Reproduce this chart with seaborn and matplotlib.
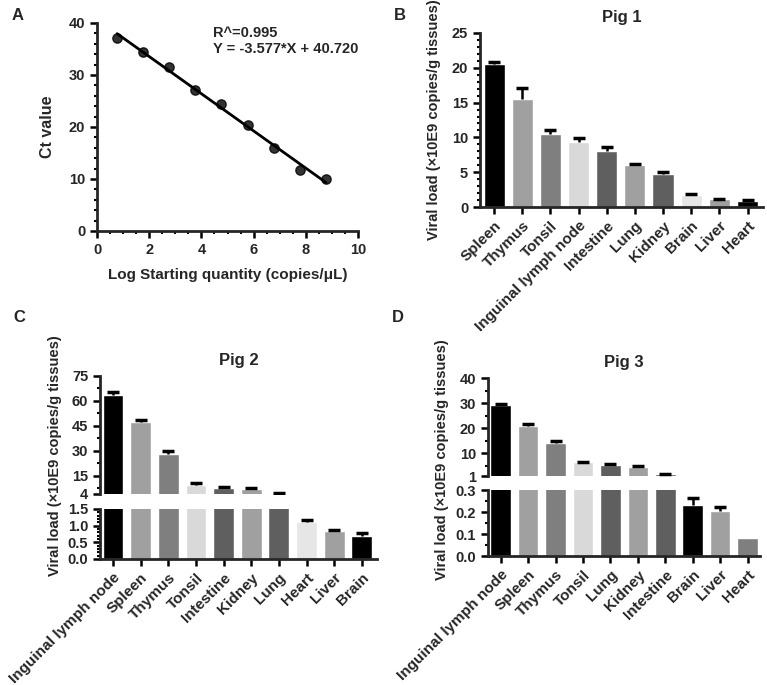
import matplotlib
matplotlib.use("Agg")
import matplotlib.pyplot as plt
from matplotlib.ticker import MultipleLocator
import seaborn as sns
import pandas as pd

# Panel A: standard curve
log_qty = [0.77, 1.77, 2.77, 3.77, 4.77, 5.77, 6.77, 7.77, 8.77]
ct_value = [37.2, 34.4, 31.6, 27.1, 24.4, 20.3, 16.0, 11.8, 10.0]

# Panel B: Pig 1
pig1_tissue = ["Spleen", "Thymus", "Tonsil", "Inguinal lymph node", "Intestine",
               "Lung", "Kidney", "Brain", "Liver", "Heart"]
pig1_load = [20.5, 15.5, 10.5, 9.4, 8.0, 6.1, 4.8, 1.7, 1.1, 0.9]
pig1_err = [0.4, 1.6, 0.6, 0.5, 0.6, 0.1, 0.2, 0.1, 0.1, 0.1]

# Panel C: Pig 2
pig2_tissue = ["Inguinal lymph node", "Spleen", "Thymus", "Tonsil", "Intestine",
               "Kidney", "Lung", "Heart", "Liver", "Brain"]
pig2_load = [63.8, 47.5, 28.2, 9.4, 7.4, 7.0, 4.8, 1.12, 0.85, 0.70]
pig2_err = [1.5, 0.8, 1.4, 1.5, 0.6, 0.6, 0.1, 0.04, 0.03, 0.08]

# Panel D: Pig 3
pig3_tissue = ["Inguinal lymph node", "Spleen", "Thymus", "Tonsil", "Lung",
               "Kidney", "Intestine", "Brain", "Liver", "Heart"]
pig3_load = [29.2, 20.9, 14.2, 6.4, 5.5, 4.7, 1.7, 0.234, 0.204, 0.084]
pig3_err = [0.6, 0.6, 0.7, 0.2, 0.3, 0.4, 0.15, 0.028, 0.02, 0.0]

K, G1, G2, G3, G4, G5 = "#000000", "#a0a0a0", "#7f7f7f", "#d9d9d9", "#5f5f5f", "#e6e6e6"
pal1 = [K, G1, G2, G3, G4, G1, G4, G5, G1, K]
pal2 = [K, G1, G2, G3, G4, G1, G4, G5, G1, K]
pal3 = [K, G1, G2, G3, G4, G1, G4, K, G1, G2]

sns.set_style("ticks")
plt.rcParams["font.family"] = ["Liberation Sans", "DejaVu Sans"]
plt.rcParams["font.weight"] = "bold"
plt.rcParams["axes.labelweight"] = "bold"
plt.rcParams["axes.titleweight"] = "bold"
plt.rcParams["axes.linewidth"] = 2
plt.rcParams["xtick.major.width"] = 1.8
plt.rcParams["ytick.major.width"] = 1.8
plt.rcParams["xtick.minor.width"] = 1.5
plt.rcParams["ytick.minor.width"] = 1.5
plt.rcParams["xtick.major.size"] = 5
plt.rcParams["ytick.major.size"] = 5
plt.rcParams["xtick.minor.size"] = 2.5
plt.rcParams["ytick.minor.size"] = 2.5
plt.rcParams["xtick.labelsize"] = 10.5
plt.rcParams["ytick.labelsize"] = 10.5

W, H = 767, 685
fig = plt.figure(figsize=(W / 100, H / 100), dpi=100)


def box(x0, y0, x1, y1):
    # pixel box (left, top, right, bottom) -> figure fraction
    return [x0 / W, 1 - y1 / H, (x1 - x0) / W, (y1 - y0) / H]


def style(ax):
    sns.despine(ax=ax)
    ax.tick_params(which="both", direction="out", color="black")


def bars(ax, tissue, load, err, pal, lo, hi):
    df = pd.DataFrame({"tissue": tissue, "load": load})
    sns.barplot(data=df, x="tissue", y="load", hue="tissue", palette=pal,
                legend=False, width=0.75, errorbar=None, saturation=1, ax=ax)
    # upper-only SEM bars, only where they fall inside this axis' range
    idx = [i for i in range(len(load)) if load[i] + err[i] > lo and load[i] < hi and err[i] > 0]
    if idx:
        eb = ax.errorbar(idx, [load[i] for i in idx],
                         yerr=[[0] * len(idx), [err[i] for i in idx]], fmt="none",
                         ecolor="black", elinewidth=1.8, capsize=4.5, capthick=2.5)
        eb[1][0].set_visible(False)
    ax.set_xlabel("")
    ax.set_ylabel("")


def xlabels(ax, tissue):
    ax.set_xticks(range(len(tissue)))
    ax.set_xticklabels(tissue, rotation=45, ha="right", rotation_mode="anchor",
                       fontsize=11, fontweight="bold")


ylab = "Viral load (\u00d710E9 copies/g tissues)"

# ---- A ----
axA = fig.add_axes(box(97, 23, 358, 231))
sns.regplot(x=log_qty, y=ct_value, ci=None, color="black", ax=axA,
            scatter_kws={"s": 45, "zorder": 3}, line_kws={"lw": 2})
axA.set_xlim(0, 10)
axA.set_ylim(0, 40)
axA.xaxis.set_major_locator(MultipleLocator(2))
axA.xaxis.set_minor_locator(MultipleLocator(0.5))
axA.yaxis.set_major_locator(MultipleLocator(10))
axA.yaxis.set_minor_locator(MultipleLocator(2))
axA.set_ylabel("Ct value", fontsize=11.5, labelpad=10)
axA.set_xlabel("Log Starting quantity (copies/\u03bcL)", fontsize=11, labelpad=8)
axA.text(0.445, 0.985, "R^=0.995\nY = -3.577*X + 40.720", transform=axA.transAxes,
         fontsize=10.5, fontweight="bold", va="top", ha="left", linespacing=1.2)
style(axA)

# ---- B ----
axB = fig.add_axes(box(480, 33, 763, 207))
bars(axB, pig1_tissue, pig1_load, pig1_err, pal1, 0, 25)
axB.set_xlim(-0.5, 9.55)
axB.set_ylim(0, 25)
axB.yaxis.set_major_locator(MultipleLocator(5))
axB.yaxis.set_minor_locator(MultipleLocator(1))
axB.set_title("Pig 1", fontsize=12, pad=8)
axB.set_ylabel(ylab, fontsize=10.5, labelpad=8)
xlabels(axB, pig1_tissue)
style(axB)

# ---- C ----
axC1 = fig.add_axes(box(100, 376, 377, 494))
axC2 = fig.add_axes(box(100, 509, 377, 559))
bars(axC1, pig2_tissue, pig2_load, pig2_err, pal2, 4, 75)
bars(axC2, pig2_tissue, pig2_load, pig2_err, pal2, 0, 1.5)
for ax in (axC1, axC2):
    ax.set_xlim(-0.47, 9.55)
axC1.set_ylim(4, 75)
axC1.set_yticks([4, 15, 30, 45, 60, 75])
axC1.yaxis.set_minor_locator(MultipleLocator(7.5))
axC2.set_ylim(0, 1.5)
axC2.yaxis.set_major_locator(MultipleLocator(0.5))
axC2.yaxis.set_minor_locator(MultipleLocator(0.1))
axC2.yaxis.set_major_formatter("{x:.1f}")
axC1.set_title("Pig 2", fontsize=12, pad=8)
style(axC1)
style(axC2)
axC1.spines["bottom"].set_visible(False)
axC1.tick_params(axis="x", which="both", bottom=False, labelbottom=False)
xlabels(axC2, pig2_tissue)
fig.text(55 / W, 1 - 456 / H, ylab, rotation=90, ha="center", va="center",
         fontsize=10.5, fontweight="bold")

# ---- D ----
axD1 = fig.add_axes(box(488, 378, 760, 476))
axD2 = fig.add_axes(box(488, 490, 760, 556))
bars(axD1, pig3_tissue, pig3_load, pig3_err, pal3, 1, 40)
bars(axD2, pig3_tissue, pig3_load, pig3_err, pal3, 0, 0.3)
for ax in (axD1, axD2):
    ax.set_xlim(-0.46, 9.45)
axD1.set_ylim(1, 40)
axD1.set_yticks([1, 10, 20, 30, 40])
axD1.yaxis.set_minor_locator(MultipleLocator(5))
axD2.set_ylim(0, 0.3)
axD2.yaxis.set_major_locator(MultipleLocator(0.1))
axD2.yaxis.set_minor_locator(MultipleLocator(0.05))
axD2.yaxis.set_major_formatter("{x:.1f}")
axD1.set_title("Pig 3", fontsize=12, pad=8)
style(axD1)
style(axD2)
axD1.spines["bottom"].set_visible(False)
axD1.tick_params(axis="x", which="both", bottom=False, labelbottom=False)
xlabels(axD2, pig3_tissue)
fig.text(442 / W, 1 - 460 / H, ylab, rotation=90, ha="center", va="center",
         fontsize=10.5, fontweight="bold")

# panel letters
for letter, (px, py) in zip("ABCD", [(18, 15), (400, 15), (19, 318), (398, 318)]):
    fig.text(px / W, 1 - py / H, letter, fontsize=12, fontweight="bold",
             ha="center", va="center")

fig.savefig("out.png", dpi=100, facecolor="white")
